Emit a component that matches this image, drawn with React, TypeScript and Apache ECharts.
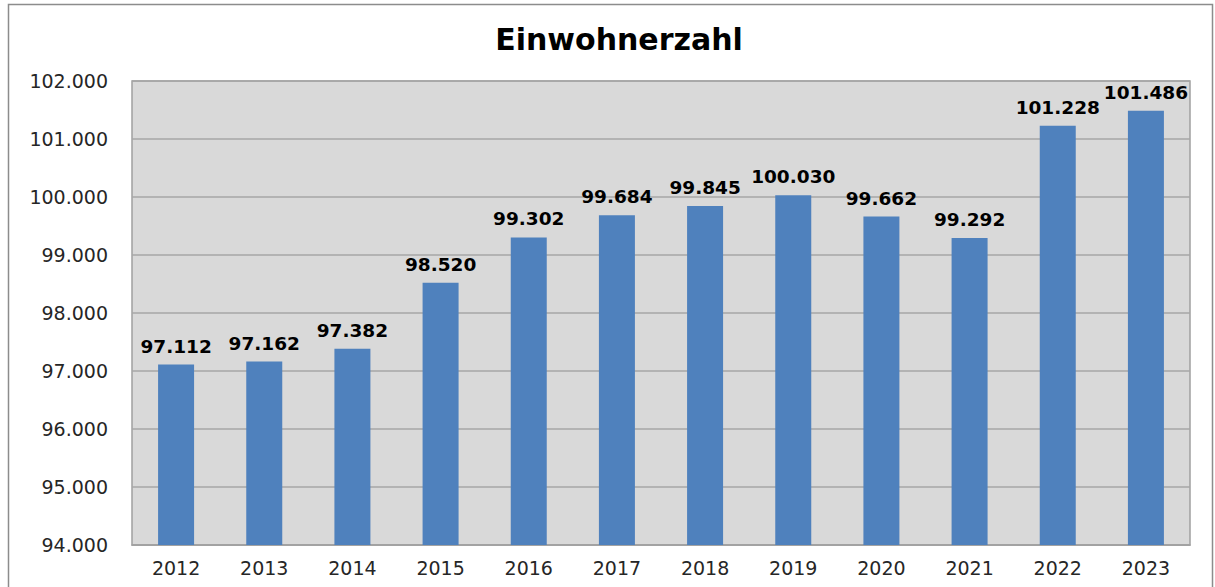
import React, { useEffect, useRef } from "react";
import * as echarts from "echarts";

const years = ["2012", "2013", "2014", "2015", "2016", "2017", "2018", "2019", "2020", "2021", "2022", "2023"];
const population = [97112, 97162, 97382, 98520, 99302, 99684, 99845, 100030, 99662, 99292, 101228, 101486];
const chartTitle = "Einwohnerzahl";
const yMin = 94000;
const yMax = 102000;
const yStep = 1000;

function fmt(v: number): string {
  const s = Math.round(v).toString();
  return s.replace(/\B(?=(\d{3})+(?!\d))/g, ".");
}

export default function App() {
  const ref = useRef<HTMLDivElement>(null);
  useEffect(() => {
    document.body.style.margin = "0";
    if (!ref.current) return;
    const chart = echarts.init(ref.current, null, { renderer: "svg" });
    const font = "'DejaVu Sans', Verdana, sans-serif";
    chart.setOption({
      animation: false,
      backgroundColor: "#ffffff",
      title: {
        text: chartTitle,
        left: 614,
        textAlign: "center",
        top: 19,
        textStyle: { fontFamily: font, fontWeight: "bold", fontSize: 30, color: "#000" },
      },
      graphic: [
        {
          type: "rect",
          shape: { x: 8.5, y: 4.5, width: 1204, height: 600 },
          style: { fill: "none", stroke: "#8c8c8c", lineWidth: 1.5 },
          silent: true,
        },
      ],
      grid: {
        left: 132,
        top: 81,
        right: 25,
        bottom: 42,
        show: true,
        backgroundColor: "#d9d9d9",
        borderColor: "#a0a0a0",
        borderWidth: 1.5,
      },
      xAxis: {
        type: "category",
        data: years,
        axisTick: { show: false },
        axisLine: { show: true, lineStyle: { color: "#a0a0a0", width: 1.5 } },
        axisLabel: { fontFamily: font, fontSize: 19, color: "#262626", margin: 13 },
      },
      yAxis: {
        type: "value",
        min: yMin,
        max: yMax,
        interval: yStep,
        axisLine: { show: false },
        axisTick: { show: false },
        splitLine: { show: true, lineStyle: { color: "#a6a6a6", width: 1.5 } },
        axisLabel: {
          fontFamily: font,
          fontSize: 19,
          color: "#262626",
          margin: 24,
          formatter: (v: number) => fmt(v),
        },
      },
      series: [
        {
          type: "bar",
          data: population,
          barWidth: 36,
          itemStyle: { color: "#4f81bd" },
          label: {
            show: true,
            position: "top",
            distance: 9,
            fontFamily: font,
            fontWeight: "bold",
            fontSize: 18.5,
            color: "#000",
            formatter: (p: any) => fmt(p.value),
          },
        },
      ],
    });
    return () => chart.dispose();
  }, []);
  return <div ref={ref} style={{ width: 1215, height: 587 }} />;
}
